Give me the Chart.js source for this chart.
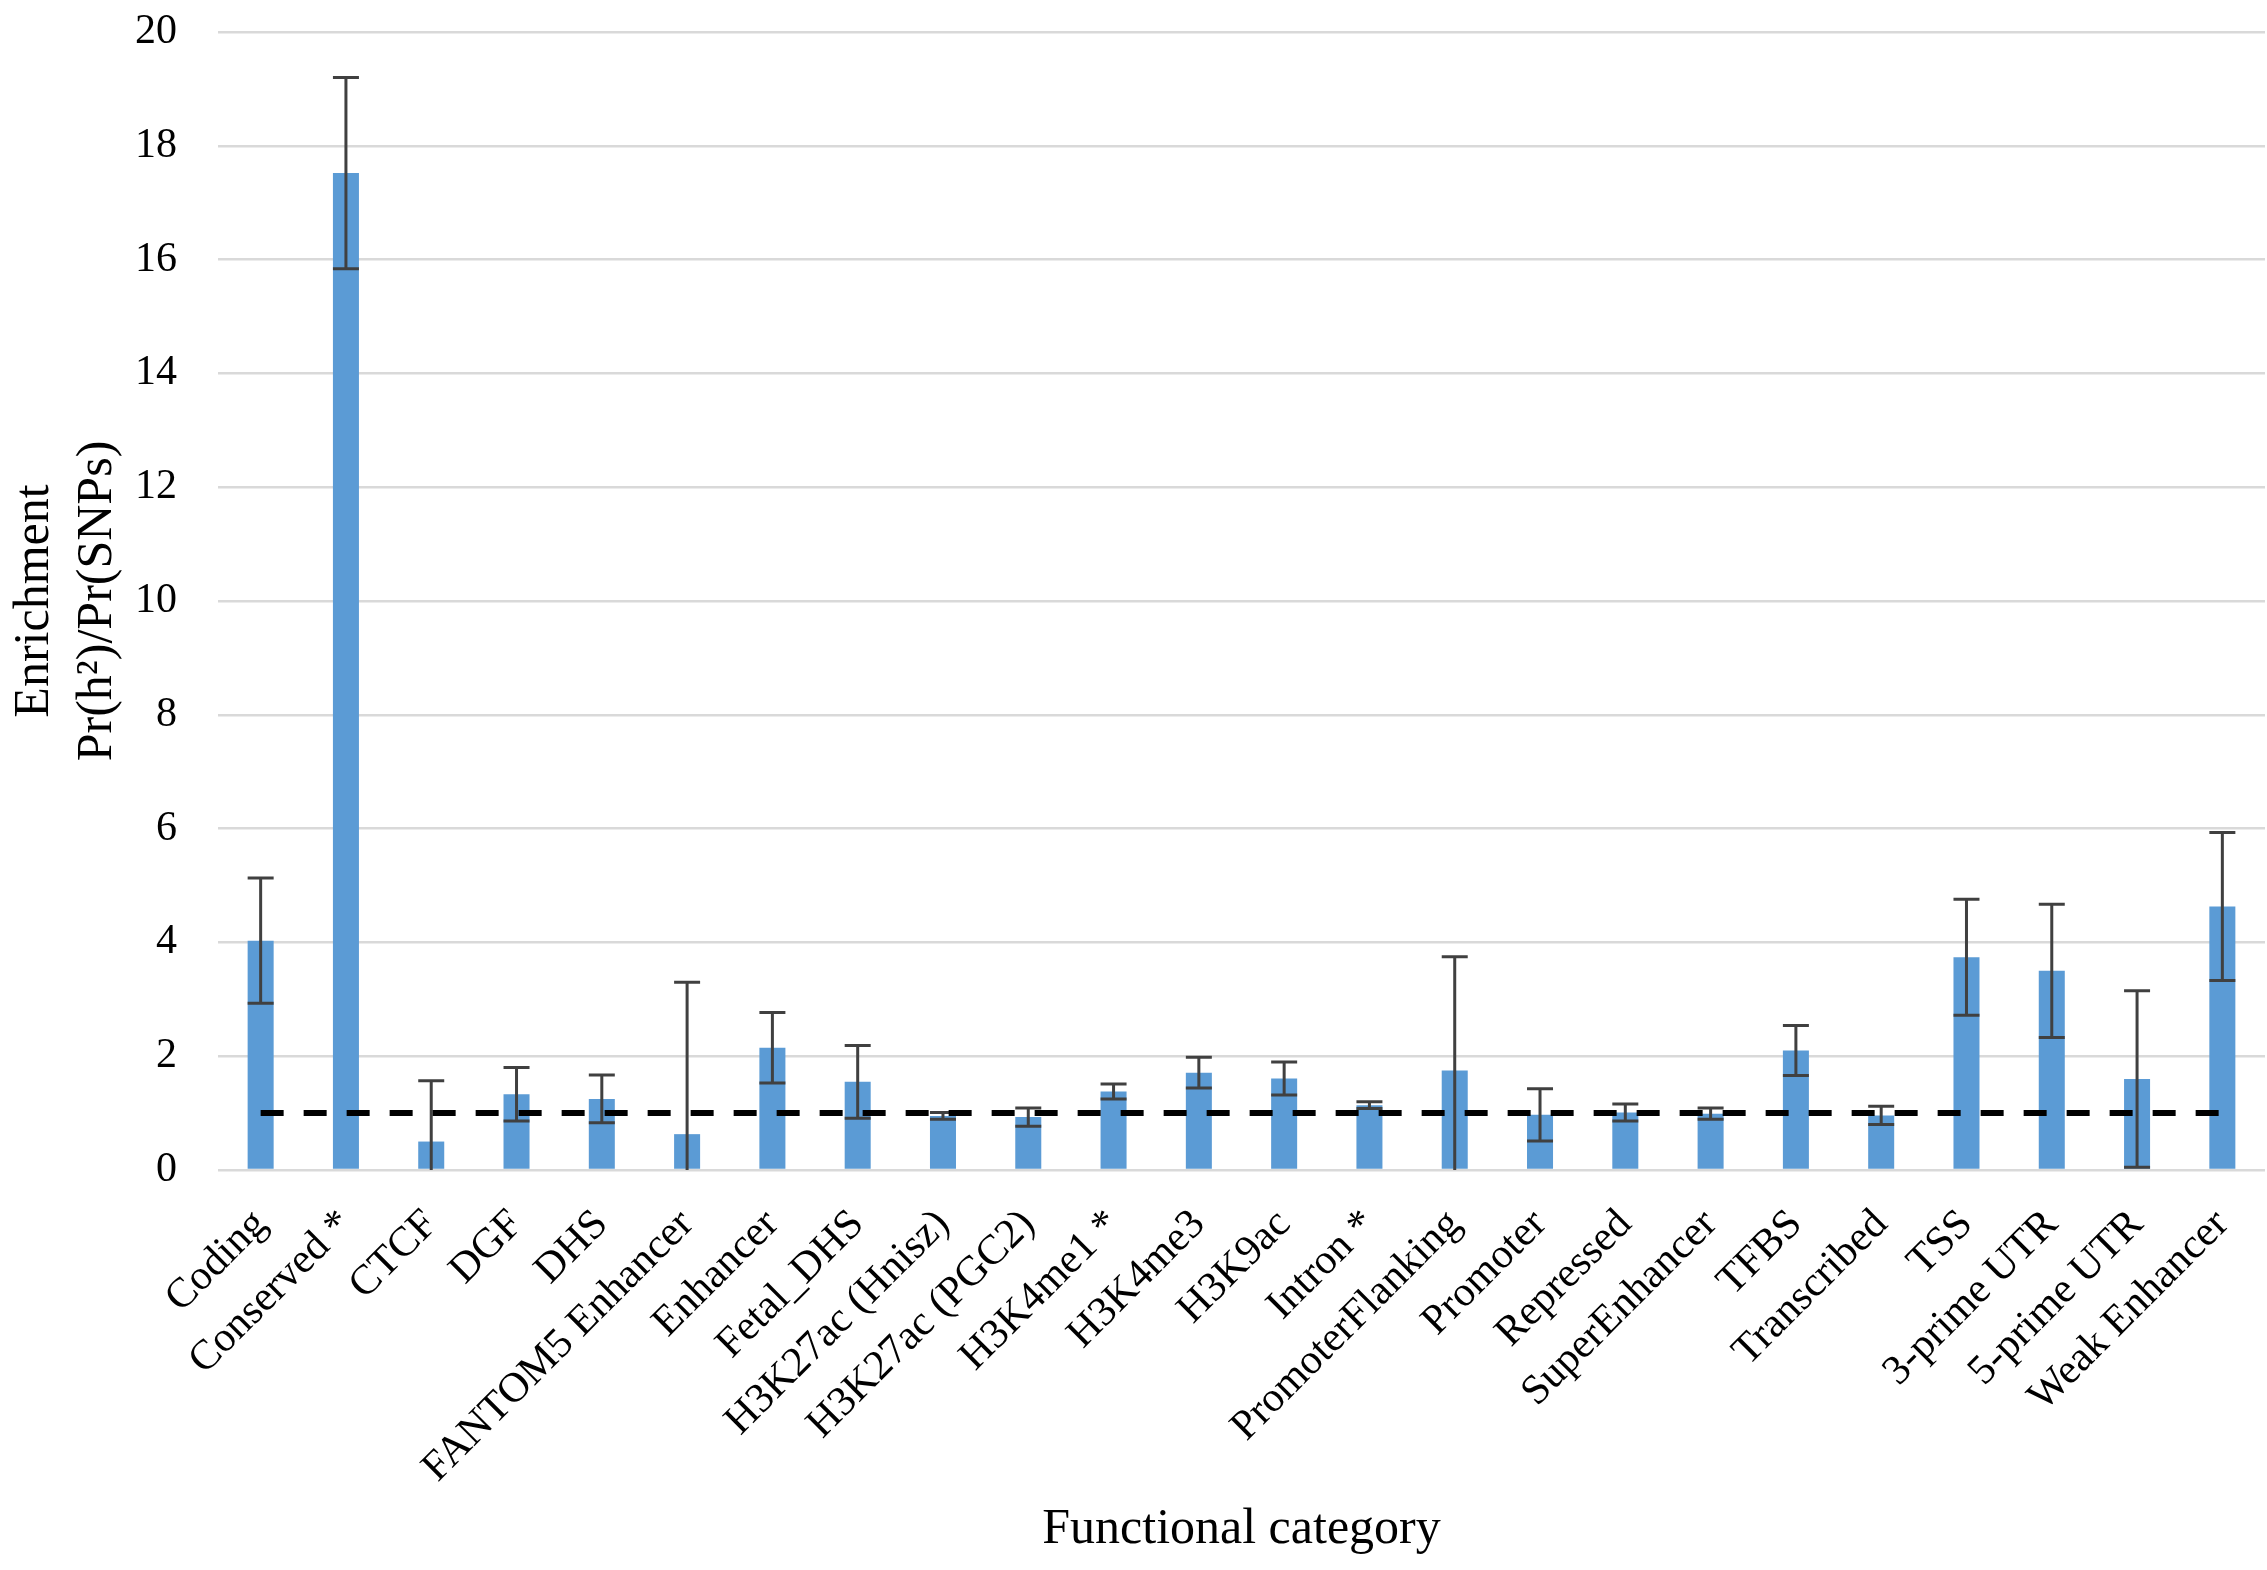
<!DOCTYPE html>
<html>
<head>
<meta charset="utf-8">
<script src="https://cdn.jsdelivr.net/npm/chart.js@4.4.0/dist/chart.umd.min.js"></script>
<style>
  html, body { margin: 0; padding: 0; background: #fff; }
  #wrap { width: 2267px; height: 1570px; }
</style>
</head>
<body>
<div id="wrap"><canvas id="myChart" width="2267" height="1570"></canvas></div>
<script>
// categories along the x axis
var categories = [
    'Coding', 'Conserved *', 'CTCF', 'DGF', 'DHS', 'FANTOM5 Enhancer', 'Enhancer',
    'Fetal_DHS', 'H3K27ac (Hnisz)', 'H3K27ac (PGC2)', 'H3K4me1 *', 'H3K4me3', 'H3K9ac',
    'Intron *', 'PromoterFlanking', 'Promoter', 'Repressed', 'SuperEnhancer', 'TFBS',
    'Transcribed', 'TSS', '3-prime UTR', '5-prime UTR', 'Weak Enhancer'
];

// enrichment values
var enrichment = [
    4.03, 17.52, 0.50, 1.33, 1.25, 0.63, 2.15,
    1.55, 0.95, 0.93, 1.38, 1.71, 1.61,
    1.14, 1.75, 0.97, 1.01, 0.99, 2.10,
    0.96, 3.74, 3.50, 1.60, 4.63
];

// standard errors (symmetric)
var errors = [
    1.10, 1.68, 1.07, 0.47, 0.42, 2.67, 0.62,
    0.64, 0.06, 0.16, 0.13, 0.27, 0.29,
    0.06, 2.00, 0.46, 0.15, 0.10, 0.44,
    0.16, 1.02, 1.17, 1.55, 1.30
];

// reference line: enrichment = 1
var baseline = categories.map(function () { return 1; });

var yTicks = { min: 0, max: 20, step: 2 };

var serif = "'Liberation Serif', 'Times New Roman', serif";

// draws the error bars right after the bars, so the dashed line sits on top
var errorBarPlugin = {
    id: 'errorBars',
    afterDatasetDraw: function (chart, args) {
        if (args.index !== 0) return;
        var ctx = chart.ctx;
        var yScale = chart.scales.y;
        var meta = chart.getDatasetMeta(0);
        var cap = 13;
        ctx.save();
        ctx.strokeStyle = '#404040';
        ctx.lineWidth = 3;
        meta.data.forEach(function (bar, i) {
            var v = enrichment[i], e = errors[i];
            var hi = v + e;
            var lo = v - e;
            var clipped = lo < 0;
            if (clipped) lo = 0;
            var x = bar.x;
            var yHi = yScale.getPixelForValue(hi);
            var yLo = yScale.getPixelForValue(lo);
            ctx.beginPath();
            ctx.moveTo(x, yHi);
            ctx.lineTo(x, yLo);
            ctx.moveTo(x - cap, yHi);
            ctx.lineTo(x + cap, yHi);
            if (!clipped) {
                ctx.moveTo(x - cap, yLo);
                ctx.lineTo(x + cap, yLo);
            }
            ctx.stroke();
        });
        ctx.restore();
    }
};

var ctx = document.getElementById('myChart').getContext('2d');
new Chart(ctx, {
    type: 'bar',
    data: {
        labels: categories,
        datasets: [{
            type: 'bar',
            label: 'Enrichment',
            data: enrichment,
            backgroundColor: '#5B9BD5',
            borderWidth: 0,
            barPercentage: 0.305,
            categoryPercentage: 1.0,
            order: 2
        }, {
            type: 'line',
            label: 'Baseline',
            data: baseline,
            borderColor: '#000000',
            borderWidth: 6,
            borderDash: [23, 20],
            borderCapStyle: 'butt',
            pointRadius: 0,
            fill: false,
            order: 1
        }]
    },
    options: {
        responsive: false,
        devicePixelRatio: 1,
        animation: false,
        layout: {
            padding: { top: 0, right: 2, bottom: 0, left: 0 }
        },
        plugins: {
            legend: { display: false },
            tooltip: { enabled: false }
        },
        scales: {
            x: {
                grid: { display: false, drawTicks: false },
                border: { display: false },
                ticks: {
                    autoSkip: false,
                    maxRotation: 45,
                    minRotation: 45,
                    padding: 30,
                    color: '#000',
                    font: { family: serif, size: 42 }
                },
                title: {
                    display: true,
                    text: 'Functional category',
                    color: '#000',
                    font: { family: serif, size: 50, lineHeight: 1.25 },
                    padding: { top: 0, bottom: 9 }
                },
                afterFit: function (scale) {
                    scale.height = 400;
                    scale.paddingLeft = 0;
                    scale.paddingRight = 0;
                }
            },
            y: {
                min: yTicks.min,
                max: yTicks.max,
                grid: { color: '#D9D9D9', lineWidth: 2.5, drawTicks: false },
                border: { display: false },
                ticks: {
                    stepSize: yTicks.step,
                    padding: 41,
                    color: '#000',
                    font: { family: serif, size: 42 }
                },
                title: {
                    display: true,
                    text: ['Enrichment', 'Pr(h\u00B2)/Pr(SNPs)'],
                    color: '#000',
                    font: { family: serif, size: 50, lineHeight: 1.25 },
                    padding: { top: 4, bottom: 0 }
                },
                afterFit: function (scale) {
                    scale.width = 218;
                    scale.paddingTop = 32;
                    scale.paddingBottom = 0;
                }
            }
        }
    },
    plugins: [errorBarPlugin]
});
</script>
</body>
</html>
